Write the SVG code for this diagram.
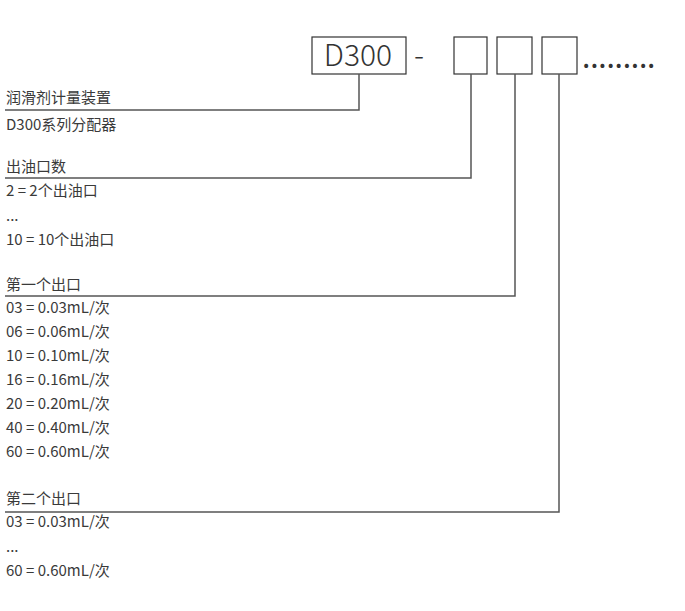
<svg xmlns="http://www.w3.org/2000/svg" width="685" height="611" viewBox="0 0 685 611">
<style>
.t{font-family:"Noto Sans CJK SC","Noto Sans",sans-serif;font-size:15px;font-weight:400;fill:#3a3a3a}
.big{font-family:"Noto Sans CJK SC","Noto Sans",sans-serif;font-size:30px;font-weight:300;fill:#333}
.dots{font-family:"Noto Sans CJK SC","Noto Sans",sans-serif;font-size:30px;font-weight:400;fill:#333}
.box{fill:none;stroke:#333;stroke-width:1.2}
.ln{fill:none;stroke:#555;stroke-width:1.5}
</style>
<rect width="685" height="611" fill="#fff"/>
<g id="header">
<rect class="box" x="312" y="37" width="94" height="37"/>
<text class="big" x="358" y="66" text-anchor="middle">D300</text>
<text class="big" x="414" y="66">-</text>
<rect class="box" x="454" y="37" width="33" height="37"/>
<rect class="box" x="497" y="37" width="35" height="37"/>
<rect class="box" x="542" y="37" width="35" height="37"/>
<text class="dots" x="582" y="68" letter-spacing="-0.2">.........</text>
</g>
<g id="connectors">
<polyline class="ln" points="359,74 359,110 5,110"/>
<polyline class="ln" points="471,74 471,178 5,178"/>
<polyline class="ln" points="515,74 515,296 5,296"/>
<polyline class="ln" points="559,74 559,512 5,512"/>
</g>
<g id="node-device">
<text class="t" x="6" y="103">润滑剂计量装置</text>
<text class="t" x="6" y="130">D300系列分配器</text>
</g>
<g id="node-outlets">
<text class="t" x="6" y="172">出油口数</text>
<text class="t" x="6" y="196">2 = 2个出油口</text>
<text class="t" x="6" y="221">...</text>
<text class="t" x="6" y="245">10 = 10个出油口</text>
</g>
<g id="node-first">
<text class="t" x="6" y="290">第一个出口</text>
<text class="t" x="6" y="313">03 = 0.03mL/次</text>
<text class="t" x="6" y="337">06 = 0.06mL/次</text>
<text class="t" x="6" y="361">10 = 0.10mL/次</text>
<text class="t" x="6" y="385">16 = 0.16mL/次</text>
<text class="t" x="6" y="409">20 = 0.20mL/次</text>
<text class="t" x="6" y="433">40 = 0.40mL/次</text>
<text class="t" x="6" y="457">60 = 0.60mL/次</text>
</g>
<g id="node-second">
<text class="t" x="6" y="504">第二个出口</text>
<text class="t" x="6" y="527">03 = 0.03mL/次</text>
<text class="t" x="6" y="552">...</text>
<text class="t" x="6" y="576">60 = 0.60mL/次</text>
</g>
</svg>
